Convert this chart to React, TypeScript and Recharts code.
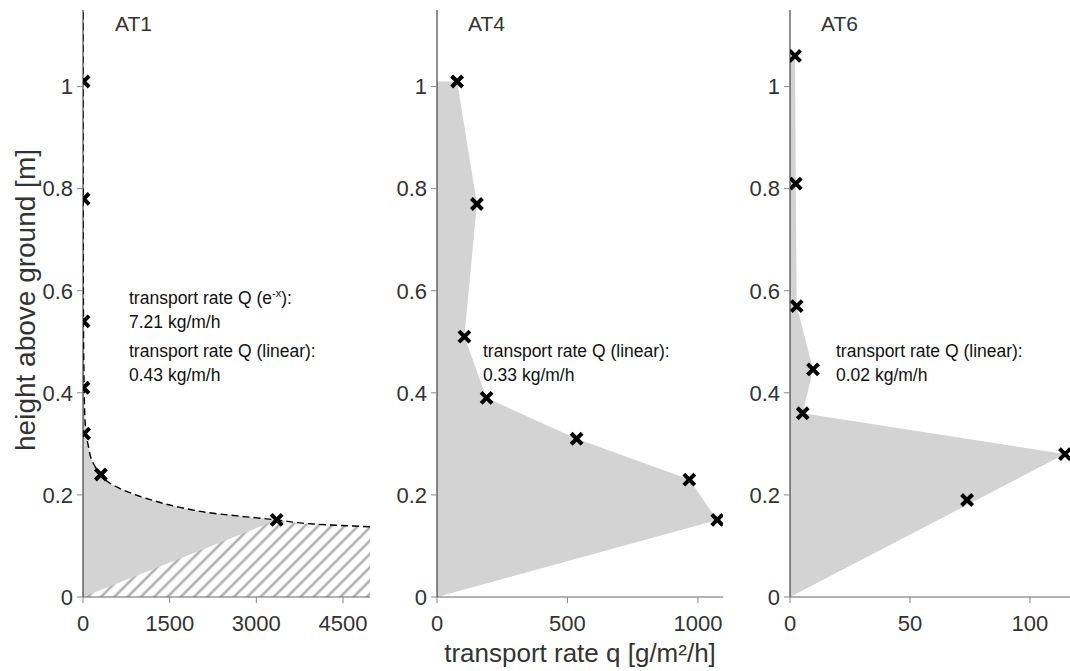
import React from 'react';
import { ComposedChart, Area, Line, XAxis, YAxis } from 'recharts';

// shared height axis [m]
const Y_MAX = 1.15;
const Y_TICKS = [0, 0.2, 0.4, 0.6, 0.8, 1];

// AT1: observed transport rate q [g/m²/h] at height h [m]
const at1Height = [1.01, 0.78, 0.54, 0.41, 0.32, 0.24, 0.151];
const at1Rate = [10, 12, 10, 8, 20, 310, 3352];
// e^-x fit
const at1FitHeight = [1.15, 0.9, 0.7, 0.55, 0.45, 0.38, 0.346, 0.3, 0.262, 0.219, 0.193, 0.1755, 0.164, 0.157, 0.151, 0.143, 0.1376];
const at1FitRate = [1, 2, 4, 8, 15, 25, 35, 85, 178, 525, 1102, 1679, 2255, 2833, 3352, 3986, 4967];
const at1XMax = 4967;
const at1Ticks = [0, 1500, 3000, 4500];

// AT4
const at4Height = [1.01, 0.77, 0.51, 0.39, 0.31, 0.23, 0.151];
const at4Rate = [77, 153, 105, 190, 535, 967, 1074];
const at4XMax = 1096;
const at4Ticks = [0, 500, 1000];

// AT6
const at6Height = [1.06, 0.81, 0.57, 0.446, 0.36, 0.28, 0.19];
const at6Rate = [2.1, 2.4, 2.8, 9.6, 5.3, 114.6, 73.8];
const at6XMax = 116.7;
const at6Ticks = [0, 50, 100];

const GREY = '#d3d3d3';
const TICK = { fill: '#333', fontSize: 22 };

type Part = [string, number[], number[]];

function mergeRows(parts: Part[]) {
  const map = new Map<number, any>();
  parts.forEach(([key, hs, qs]) => {
    hs.forEach((h, i) => {
      const row = map.get(h) ?? { h };
      row[key] = qs[i];
      map.set(h, row);
    });
  });
  return [...map.values()].sort((a, b) => a.h - b.h);
}

// linear profile from the ground to the peak, then the observations above it
function linearFill(hs: number[], qs: number[]): [number[], number[]] {
  const hPeak = hs[qs.indexOf(Math.max(...qs))];
  const idx = hs.map((_, i) => i).filter((i) => hs[i] >= hPeak);
  return [[0, ...idx.map((i) => hs[i])], [0, ...idx.map((i) => qs[i])]];
}

const at1Peak = at1Height[at1Rate.indexOf(Math.max(...at1Rate))];
const at1UpIdx = at1FitHeight.map((_, i) => i).filter((i) => at1FitHeight[i] >= at1Peak);
const at1LowIdx = at1FitHeight.map((_, i) => i).filter((i) => at1FitHeight[i] <= at1Peak);

const rows1 = mergeRows([
  ['obs', at1Height, at1Rate],
  ['fit', at1FitHeight, at1FitRate],
  ['greyLow', [0, at1Peak], [0, Math.max(...at1Rate)]],
  ['greyUp', at1UpIdx.map((i) => at1FitHeight[i]), at1UpIdx.map((i) => at1FitRate[i])],
  ['hatch', [0, ...at1LowIdx.map((i) => at1FitHeight[i])], [at1XMax, ...at1LowIdx.map((i) => Math.min(at1FitRate[i], at1XMax))]],
]);

const [at4FillH, at4FillQ] = linearFill(at4Height, at4Rate);
const rows4 = mergeRows([
  ['obs', at4Height, at4Rate],
  ['fill', at4FillH, at4FillQ],
]);

const [at6FillH, at6FillQ] = linearFill(at6Height, at6Rate);
const rows6 = mergeRows([
  ['obs', at6Height, at6Rate],
  ['fill', at6FillH, at6FillQ],
]);

const Cross = (props: any) => {
  const { cx, cy, value, index } = props;
  if (value == null || cx == null || cy == null) return <g key={`n${index}`} />;
  const r = 5.5;
  return (
    <path
      key={`c${index}`}
      d={`M${cx - r},${cy - r}L${cx + r},${cy + r}M${cx - r},${cy + r}L${cx + r},${cy - r}`}
      stroke="#000"
      strokeWidth={4}
      fill="none"
    />
  );
};

const axes = (xMax: number, xTicks: number[], yWidth: number) => [
  <XAxis
    key="x"
    type="number"
    domain={[0, xMax]}
    ticks={xTicks}
    interval={0}
    allowDataOverflow
    height={40}
    tickSize={6}
    tickMargin={12}
    tick={TICK}
    tickLine={{ stroke: '#888' }}
    axisLine={{ stroke: '#666' }}
  />,
  <YAxis
    key="y"
    type="number"
    dataKey="h"
    domain={[0, Y_MAX]}
    ticks={Y_TICKS}
    interval={0}
    reversed
    allowDataOverflow
    width={yWidth}
    tickSize={6}
    tickMargin={4}
    tick={TICK}
    tickLine={{ stroke: '#888' }}
    axisLine={{ stroke: '#222' }}
    tickFormatter={(v: number) => String(v)}
  />,
];

const markers = (
  <Line key="obs" dataKey="obs" stroke="none" connectNulls dot={Cross} activeDot={false} isAnimationActive={false} />
);

const MARGIN = { top: 10, bottom: 34, left: 0 };

const textStyle: React.CSSProperties = { fontFamily: '"Liberation Sans", Arial, sans-serif' };

export default function App() {
  return (
    <div style={{ position: 'absolute', left: 0, top: 0, width: 1070, height: 671, background: '#fff', ...textStyle }}>
      <div style={{ position: 'absolute', left: 0, top: 0 }}>
        <ComposedChart width={380} height={671} layout="vertical" data={rows1} margin={{ ...MARGIN, right: 10 }}>
          <defs>
            <pattern id="hatch" patternUnits="userSpaceOnUse" width="9.4" height="9.4" patternTransform="rotate(45)">
              <rect width="9.4" height="9.4" fill="#fff" />
              <line x1="4.7" y1="0" x2="4.7" y2="9.4" stroke="#b0b0b0" strokeWidth="2.6" />
            </pattern>
          </defs>
          {axes(at1XMax, at1Ticks, 83)}
          <Area dataKey="hatch" type="monotone" fill="url(#hatch)" fillOpacity={1} stroke="none" connectNulls isAnimationActive={false} />
          <Area dataKey="greyLow" type="linear" fill={GREY} fillOpacity={1} stroke="none" connectNulls isAnimationActive={false} />
          <Area dataKey="greyUp" type="monotone" fill={GREY} fillOpacity={1} stroke="none" connectNulls isAnimationActive={false} />
          <Line dataKey="fit" type="monotone" stroke="#000" strokeWidth={1.4} strokeDasharray="7 4" dot={false} activeDot={false} connectNulls isAnimationActive={false} />
          {markers}
        </ComposedChart>
      </div>
      <div style={{ position: 'absolute', left: 380, top: 0 }}>
        <ComposedChart width={350} height={671} layout="vertical" data={rows4} margin={{ ...MARGIN, right: 7 }}>
          {axes(at4XMax, at4Ticks, 57)}
          <Area dataKey="fill" type="linear" fill={GREY} fillOpacity={1} stroke="none" connectNulls isAnimationActive={false} />
          {markers}
        </ComposedChart>
      </div>
      <div style={{ position: 'absolute', left: 730, top: 0 }}>
        <ComposedChart width={340} height={671} layout="vertical" data={rows6} margin={{ ...MARGIN, right: 0 }}>
          {axes(at6XMax, at6Ticks, 60)}
          <Area dataKey="fill" type="linear" fill={GREY} fillOpacity={1} stroke="none" connectNulls isAnimationActive={false} />
          {markers}
        </ComposedChart>
      </div>
      <svg width={1070} height={671} style={{ position: 'absolute', left: 0, top: 0, pointerEvents: 'none' }}>
        <g fill="#333" fontSize={21}>
          <text x={115} y={31}>AT1</text>
          <text x={468} y={31}>AT4</text>
          <text x={821} y={31}>AT6</text>
        </g>
        <g fill="#111" fontSize={17.5}>
          <text x={129} y={304}>
            transport rate Q (e<tspan dy={-7} fontSize={11}>-x</tspan>
            <tspan dy={7}>):</tspan>
          </text>
          <text x={129} y={328}>7.21 kg/m/h</text>
          <text x={129} y={357}>transport rate Q (linear):</text>
          <text x={129} y={381}>0.43 kg/m/h</text>
          <text x={483} y={357}>transport rate Q (linear):</text>
          <text x={483} y={381}>0.33 kg/m/h</text>
          <text x={836} y={357}>transport rate Q (linear):</text>
          <text x={836} y={381}>0.02 kg/m/h</text>
        </g>
        <g fill="#333" fontSize={26}>
          <text x={580} y={662} textAnchor="middle">transport rate q [g/m²/h]</text>
          <text x={35} y={300} textAnchor="middle" fontSize={28} transform="rotate(-90 35 300)">height above ground [m]</text>
        </g>
      </svg>
    </div>
  );
}
